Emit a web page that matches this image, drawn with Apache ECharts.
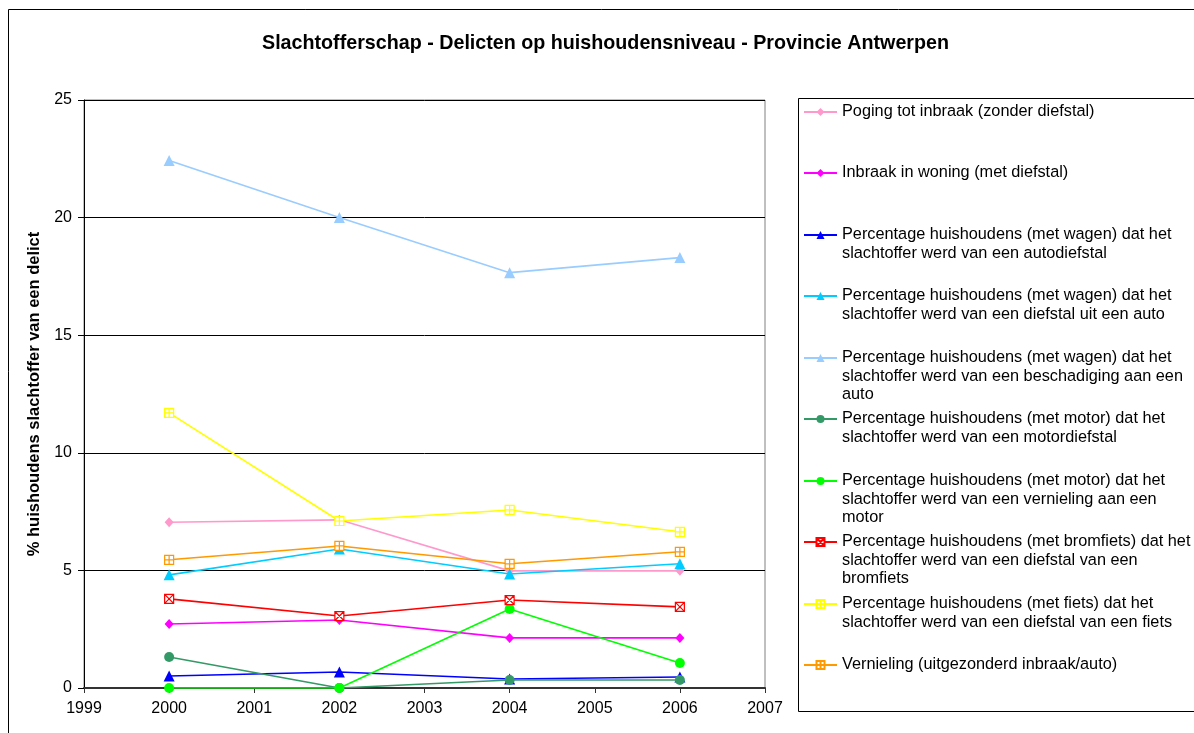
<!DOCTYPE html>
<html>
<head>
<meta charset="utf-8">
<script src="https://cdn.jsdelivr.net/npm/echarts@6/dist/echarts.min.js"></script>
<style>
  html, body { margin: 0; padding: 0; background: #fff; }
  #chart { width: 1194px; height: 733px; }
</style>
</head>
<body>
<div id="chart"></div>
<script>
// survey years
const years = [2000, 2002, 2004, 2006];

// % households that were victim, per offence
const poging = [7.05, 7.15, 4.98, 4.98];
const inbraak = [2.72, 2.89, 2.13, 2.13];
const autodiefstal = [0.51, 0.68, 0.38, 0.47];
const uitAuto = [4.81, 5.91, 4.85, 5.28];
const beschadigingAuto = [22.43, 20.0, 17.66, 18.3];
const motordiefstal = [1.32, 0.0, 0.34, 0.34];
const vernielingMotor = [0.0, 0.0, 3.36, 1.06];
const bromfiets = [3.79, 3.06, 3.74, 3.45];
const fiets = [11.7, 7.1, 7.57, 6.64];
const vernieling = [5.45, 6.04, 5.28, 5.79];

const names = [
  'Poging tot inbraak (zonder diefstal)',
  'Inbraak in woning (met diefstal)',
  'Percentage huishoudens (met wagen) dat het\nslachtoffer werd van een autodiefstal',
  'Percentage huishoudens (met wagen) dat het\nslachtoffer werd van een diefstal uit een auto',
  'Percentage huishoudens (met wagen) dat het\nslachtoffer werd van een beschadiging aan een\nauto',
  'Percentage huishoudens (met motor) dat het\nslachtoffer werd van een motordiefstal',
  'Percentage huishoudens (met motor) dat het\nslachtoffer werd van een vernieling aan een\nmotor',
  'Percentage huishoudens (met bromfiets) dat het\nslachtoffer werd van een diefstal van een\nbromfiets',
  'Percentage huishoudens (met fiets) dat het\nslachtoffer werd van een diefstal van een fiets',
  'Vernieling (uitgezonderd inbraak/auto)'
];
const values = [poging, inbraak, autodiefstal, uitAuto, beschadigingAuto,
  motordiefstal, vernielingMotor, bromfiets, fiets, vernieling];

const colors = ['#FF99CC', '#FF00FF', '#0000FF', '#00CCFF', '#99CCFF',
  '#339966', '#00FF00', '#FF0000', '#FFFF00', '#FF9900'];

const SQ_PLUS = 'path://M0,0H10V10H0Z M5,0V10 M0,5H10';
const SQ_X = 'path://M0,0H10V10H0Z M0,0L10,10 M10,0L0,10';
const symbols = ['diamond', 'diamond', 'triangle', 'triangle', 'triangle',
  'circle', 'circle', SQ_X, SQ_PLUS, SQ_PLUS];
const symbolSizes = [[9, 10], [9, 10], 11, 11, 11, 10, 10, 9, 9, 9];

const FONT = '"Liberation Sans", Arial, sans-serif';
const LH = 18.5;
// vertical centre of first text line of each legend entry
const legendY = [112, 173, 235, 296, 358, 419, 481, 542, 604, 665];

const chart = echarts.init(document.getElementById('chart'));

const series = names.map((name, i) => {
  const hollow = symbols[i].startsWith('path://');
  return {
    name,
    type: 'line',
    data: years.map((y, k) => [y, values[i][k]]),
    symbol: symbols[i],
    symbolSize: symbolSizes[i],
    showAllSymbol: true,
    lineStyle: { color: colors[i], width: 1.6 },
    itemStyle: hollow
      ? { color: '#fff', borderColor: colors[i], borderWidth: 1.2 }
      : { color: colors[i], borderWidth: 0 },
    emphasis: { disabled: true },
    z: 2 + i
  };
});

// one legend per entry; blank lines above keep the icon level with the first text line
const legends = names.map((name, i) => {
  const lines = name.split('\n').length;
  const H = (2 * lines - 1) * LH;
  return {
    data: [name],
    orient: 'vertical',
    left: 803,
    top: legendY[i] - H / 2,
    padding: 0,
    itemWidth: 33,
    itemHeight: 10,
    itemGap: 0,
    formatter: n => '\n'.repeat(lines - 1) + n,
    textStyle: {
      fontFamily: FONT,
      fontSize: 16.3,
      color: '#000',
      lineHeight: LH
    }
  };
});

const option = {
  animation: false,
  backgroundColor: '#fff',
  textStyle: { fontFamily: FONT },
  title: {
    text: 'Slachtofferschap - Delicten op huishoudensniveau - Provincie Antwerpen',
    left: 262,
    top: 34,
    padding: 0,
    textStyle: { fontFamily: FONT, fontSize: 19.7, fontWeight: 'bold', color: '#000' }
  },
  graphic: [
    {
      type: 'rect',
      shape: { x: 8.5, y: 9.5, width: 1200, height: 740 },
      style: { fill: 'none', stroke: '#000', lineWidth: 1 },
      silent: true
    },
    {
      type: 'rect',
      shape: { x: 798.5, y: 98.5, width: 420, height: 613 },
      style: { fill: 'none', stroke: '#000', lineWidth: 1 },
      silent: true
    }
  ],
  legend: legends,
  grid: {
    left: 84,
    right: 429,
    top: 100,
    bottom: 45,
    show: true,
    borderColor: '#808080',
    borderWidth: 1,
    backgroundColor: 'transparent'
  },
  xAxis: {
    type: 'value',
    min: 1999,
    max: 2007,
    interval: 1,
    axisLine: { show: true, onZero: false, lineStyle: { color: '#333', width: 2 } },
    axisTick: { show: true, length: 5, lineStyle: { color: '#333' } },
    axisLabel: { fontSize: 16, color: '#000', margin: 13, fontFamily: FONT, formatter: v => String(v) },
    splitLine: { show: false }
  },
  yAxis: {
    type: 'value',
    min: 0,
    max: 25,
    interval: 5,
    name: '% huishoudens slachtoffer van een delict',
    nameLocation: 'middle',
    nameGap: 39,
    nameTextStyle: { fontSize: 16.5, fontWeight: 'bold', color: '#000', fontFamily: FONT },
    axisLine: { show: true, lineStyle: { color: '#000', width: 1 } },
    axisTick: { show: true, length: 6, lineStyle: { color: '#000' } },
    axisLabel: { fontSize: 16, color: '#000', margin: 12, fontFamily: FONT },
    splitLine: { show: true, lineStyle: { color: '#000', width: 1 } }
  },
  series
};

chart.setOption(option);
</script>
</body>
</html>
